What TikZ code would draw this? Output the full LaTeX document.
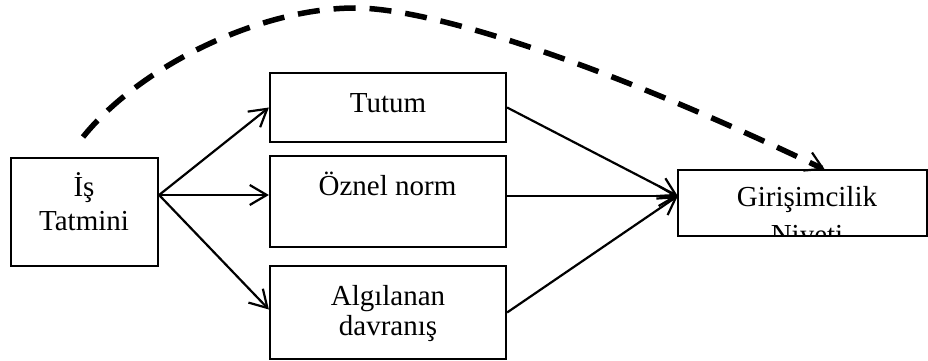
\documentclass[tikz,border=0pt]{standalone}
\usepackage{fontspec}
\setmainfont{Liberation Serif}
\usetikzlibrary{arrows.meta,calc}
\begin{document}
\begin{tikzpicture}[x=1pt,y=-1pt,
  box/.style={draw, line width=2.2pt, rectangle, inner sep=0pt},
  txt/.style={font=\fontsize{29}{34}\selectfont, inner sep=0pt, anchor=base, align=center},
  conn/.style={line width=2.2pt, -{Straight Barb[length=17pt,width=20pt]}},
  dasharr/.style={line width=5.5pt, dash pattern=on 22pt off 14pt, -{Straight Barb[length=17pt,width=20pt,line width=2.2pt]}}]
\useasboundingbox (0,0) rectangle (928,361);
% boxes
\node[box, minimum width=147pt, minimum height=108pt] (is) at (84.5,212) {};
\node[box, minimum width=236pt, minimum height=69pt] (tut) at (388,107.5) {};
\node[box, minimum width=236pt, minimum height=91pt] (oz) at (388,201.5) {};
\node[box, minimum width=236pt, minimum height=93pt] (alg) at (388,312.5) {};
\node[minimum width=249pt, minimum height=66pt, inner sep=0pt] (gir) at (802.5,203) {};
% texts
\node[txt] (istxt) at (84,230) {İş\\Tatmini};
\node[txt] (tuttxt) at (388,112) {Tutum};
\node[txt] (oztxt) at (387.5,195) {Öznel norm};
\node[txt, font=\fontsize{29}{30}\selectfont] (algtxt) at (388,335) {Algılanan\\davranış};
\begin{scope}
\clip (gir.north west) rectangle (gir.south east);
\node[txt, font=\fontsize{29}{38}\selectfont] (girtxt) at (807,244) {Girişimcilik\\Niyeti};
\end{scope}
\draw[line width=2.2pt] (gir.north west) rectangle (gir.south east);
% connectors
\draw[conn] ([yshift=17pt]is.east) -- (tut.west);
\draw[conn] ([yshift=17pt]is.east) -- ([yshift=6.5pt]oz.west);
\draw[conn] ([yshift=17pt]is.east) -- ([yshift=3pt]alg.west);
\draw[conn] (tut.east) -- ([yshift=7pt]gir.west);
\draw[conn] ([yshift=5.5pt]oz.east) -- ([yshift=7pt]gir.west);
\draw[conn] (alg.east) -- ([yshift=7pt]gir.west);
% dashed curve
\coordinate (ds) at (83,137);
\coordinate (peak) at (355,8);
\draw[dasharr] (ds) .. controls (140,66) and (260,8) .. (peak) .. controls (430,8) and (600,62) .. ([xshift=22.5pt]gir.north);
\end{tikzpicture}
\end{document}
